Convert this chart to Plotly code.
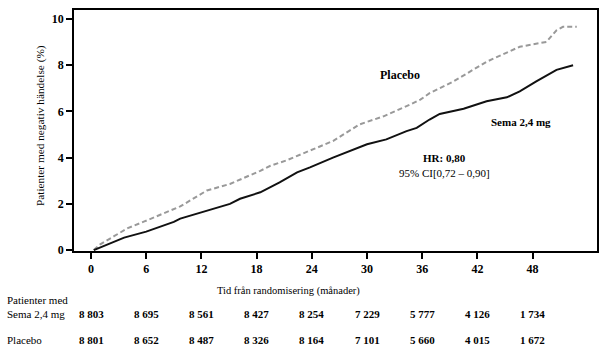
import plotly.graph_objects as go

# Kaplan-Meier style cumulative incidence (%)
sema_months = [0.3, 1.5, 3.6, 6.0, 9.0, 9.7, 12.9, 15.1, 16.2, 18.4, 20.5, 22.4, 23.8, 26.3, 30.0, 32.1, 34.3, 35.4, 36.8, 37.9, 40.5, 43.0, 45.2, 46.6, 48.4, 50.6, 52.4]
sema_vals = [0.0, 0.2, 0.54, 0.8, 1.22, 1.36, 1.75, 2.0, 2.22, 2.5, 2.93, 3.36, 3.58, 4.0, 4.58, 4.79, 5.15, 5.29, 5.65, 5.89, 6.12, 6.44, 6.61, 6.87, 7.3, 7.8, 8.0]

placebo_months = [0.3, 1.0, 2.5, 4.0, 5.8, 6.5, 9.7, 12.6, 15.1, 18.4, 19.5, 21.3, 23.8, 26.3, 29.2, 31.8, 34.7, 35.8, 36.8, 39.4, 43.0, 46.6, 49.5, 50.6, 51.3, 52.8]
placebo_vals = [0.0, 0.25, 0.6, 0.95, 1.24, 1.36, 1.89, 2.58, 2.86, 3.43, 3.65, 3.89, 4.29, 4.72, 5.44, 5.79, 6.3, 6.51, 6.79, 7.3, 8.15, 8.8, 9.01, 9.51, 9.66, 9.66]

x_ticks = [0, 6, 12, 18, 24, 30, 36, 42, 48]
y_ticks = [0, 2, 4, 6, 8, 10]

risk_sema = ["8 803", "8 695", "8 561", "8 427", "8 254", "7 229", "5 777", "4 126", "1 734"]
risk_placebo = ["8 801", "8 652", "8 487", "8 326", "8 164", "7 101", "5 660", "4 015", "1 672"]

FONT = "Liberation Serif, Times New Roman, DejaVu Serif, serif"

fig = go.Figure()
fig.add_trace(go.Scatter(x=placebo_months, y=placebo_vals, mode="lines",
                         line=dict(color="#999999", width=2, dash="5px,3px"),
                         showlegend=False, hoverinfo="skip"))
fig.add_trace(go.Scatter(x=sema_months, y=sema_vals, mode="lines",
                         line=dict(color="#111111", width=2),
                         showlegend=False, hoverinfo="skip"))

# plot area pixel geometry
top_px, bot_px = 8, 251
def py(p):
    return (bot_px - p) / (bot_px - top_px)

ann = []
ann.append(dict(x=400, y=74, text="<b>Placebo</b>", size=12))
ann.append(dict(x=521, y=121, text="<b>Sema 2,4 mg</b>", size=11))
ann.append(dict(x=444, y=157, text="<b>HR: 0,80</b>", size=11))
ann.append(dict(x=444, y=172, text="95% CI[0,72 – 0,90]", size=11))
annotations = []
for a in ann:
    annotations.append(dict(x=(a["x"] - 74) / (597 - 74), y=py(a["y"]), xref="paper", yref="paper",
                            text=a["text"], showarrow=False, xanchor="center", yanchor="middle",
                            font=dict(family=FONT, size=a["size"], color="black")))

# axis titles
annotations.append(dict(x=(288 - 74) / (597 - 74), y=py(291), xref="paper", yref="paper",
                        text="Tid från randomisering (månader)", showarrow=False,
                        xanchor="center", yanchor="middle",
                        font=dict(family=FONT, size=10.5, color="black")))
annotations.append(dict(x=(40 - 74) / (597 - 74), y=py(125), xref="paper", yref="paper",
                        text="Patienter med negativ händelse (%)", showarrow=False, textangle=-90,
                        xanchor="center", yanchor="middle",
                        font=dict(family=FONT, size=11.3, color="black")))

# risk table
labels = [("Patienter med", 300), ("Sema 2,4 mg", 315), ("Placebo", 341)]
for t, p in labels:
    annotations.append(dict(x=(5 - 74) / (597 - 74), y=py(p), xref="paper", yref="paper",
                            text=t, showarrow=False, xanchor="left", yanchor="middle",
                            font=dict(family=FONT, size=11, color="black")))
for xv, s, pl in zip(x_ticks, risk_sema, risk_placebo):
    annotations.append(dict(x=xv, y=py(315), xref="x", yref="paper", text="<b>" + s + "</b>",
                            showarrow=False, xanchor="center", yanchor="middle",
                            font=dict(family=FONT, size=11, color="black")))
    annotations.append(dict(x=xv, y=py(341), xref="x", yref="paper", text="<b>" + pl + "</b>",
                            showarrow=False, xanchor="center", yanchor="middle",
                            font=dict(family=FONT, size=11, color="black")))

fig.update_layout(
    width=609, height=352,
    margin=dict(l=74, r=12, t=top_px, b=352 - bot_px),
    plot_bgcolor="white", paper_bgcolor="white",
    font=dict(family=FONT, color="black"),
    annotations=annotations,
    xaxis=dict(range=[-1.85, 55], tickmode="array", tickvals=x_ticks,
               ticktext=["<b>%d</b>" % v for v in x_ticks],
               ticks="outside", ticklen=6, tickwidth=1.5, tickcolor="black",
               showline=True, linecolor="black", linewidth=1.5, mirror=True,
               showgrid=False, zeroline=False,
               tickfont=dict(family=FONT, size=12, color="black")),
    yaxis=dict(range=[-0.04, 10.39], tickmode="array", tickvals=y_ticks,
               ticktext=["<b>%d</b>" % v for v in y_ticks],
               ticks="outside", ticklen=6, tickwidth=1.5, tickcolor="black",
               showline=True, linecolor="black", linewidth=1.5, mirror=True,
               showgrid=False, zeroline=False,
               tickfont=dict(family=FONT, size=12, color="black")),
)

fig.write_html("out.html")
